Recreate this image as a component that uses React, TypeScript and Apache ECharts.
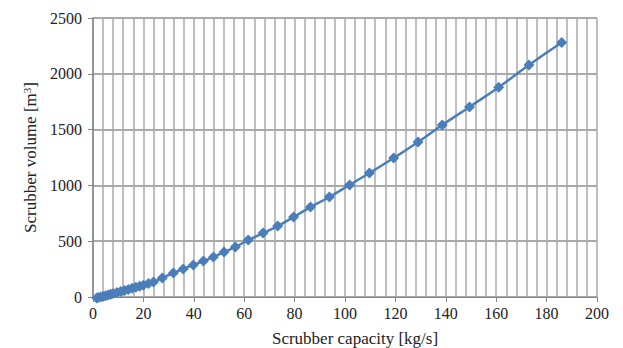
import React, { useEffect, useRef } from "react";
import * as echarts from "echarts";

const capacity = [1.5, 2, 3, 4, 5, 6, 7, 8, 9.5, 11, 12.5, 14, 15.5, 17, 18.5, 20, 22, 24, 27.5, 31.9, 35.8, 39.8, 43.8, 47.8, 52, 56.5, 61.6, 67.5, 73.3, 79.6, 86.3, 93.8, 101.8, 109.7, 119.3, 129, 138.6, 149.4, 161, 173, 186];
const volume = [-10, -5, 0, 5, 12, 18, 25, 32, 40, 50, 58, 68, 78, 88, 97, 106, 120, 134, 170, 215, 251, 287, 322, 358, 403, 448, 510, 573, 636, 716, 806, 896, 1004, 1111, 1245, 1389, 1541, 1703, 1880, 2079, 2280];

export default function App() {
  const ref = useRef<HTMLDivElement>(null);
  useEffect(() => {
    const chart = echarts.init(ref.current!, null, { renderer: "svg" });
    const font = "'Liberation Serif', 'DejaVu Serif', serif";
    chart.setOption({
      animation: false,
      textStyle: { fontFamily: font },
      grid: { left: 93, right: 26, top: 18, bottom: 51, containLabel: false, outerBoundsMode: "none" },
      xAxis: {
        type: "value",
        min: 0,
        max: 200,
        interval: 20,
        name: "Scrubber capacity [kg/s]",
        nameLocation: "middle",
        nameGap: 33,
        nameTextStyle: { fontFamily: font, fontSize: 17, color: "#222", padding: [0, 0, 0, 20] },
        axisLine: { show: true, lineStyle: { color: "#868686", width: 1 } },
        axisTick: { show: true, length: 5, lineStyle: { color: "#868686" } },
        axisLabel: { fontFamily: font, fontSize: 16, color: "#222", margin: 8 },
        splitLine: { show: true, lineStyle: { color: "#a8a8a8", width: 1.5 } },
        minorTick: { show: false, splitNumber: 5 },
        minorSplitLine: { show: true, lineStyle: { color: "#a8a8a8", width: 1.5 } },
      },
      yAxis: {
        type: "value",
        min: 0,
        max: 2500,
        interval: 500,
        name: "Scrubber volume [m{sup|3}]",
        nameLocation: "middle",
        nameGap: 49,
        nameTextStyle: {
          fontFamily: font,
          fontSize: 17,
          color: "#222",
          rich: { sup: { fontFamily: font, fontSize: 11, color: "#222", verticalAlign: "top", padding: [0, 0, 7, 0] } },
        },
        axisLine: { show: true, lineStyle: { color: "#868686", width: 1.5 } },
        axisTick: { show: true, length: 5, lineStyle: { color: "#868686" } },
        axisLabel: { fontFamily: font, fontSize: 16, color: "#222", margin: 11, formatter: (v: number) => String(v) },
        splitLine: { show: true, lineStyle: { color: "#8c8c8c", width: 1.5 } },
      },
      series: [
        {
          type: "line",
          data: capacity.map((c, i) => [c, volume[i]]),
          smooth: true,
          symbol: "diamond",
          symbolSize: 11,
          itemStyle: { color: "#4a7ebb" },
          lineStyle: { color: "#4a7ebb", width: 2.5 },
          clip: false,
        },
      ],
    });
    return () => chart.dispose();
  }, []);
  return <div ref={ref} style={{ width: 623, height: 348, position: "absolute", left: 0, top: 0, background: "#fff" }} />;
}
